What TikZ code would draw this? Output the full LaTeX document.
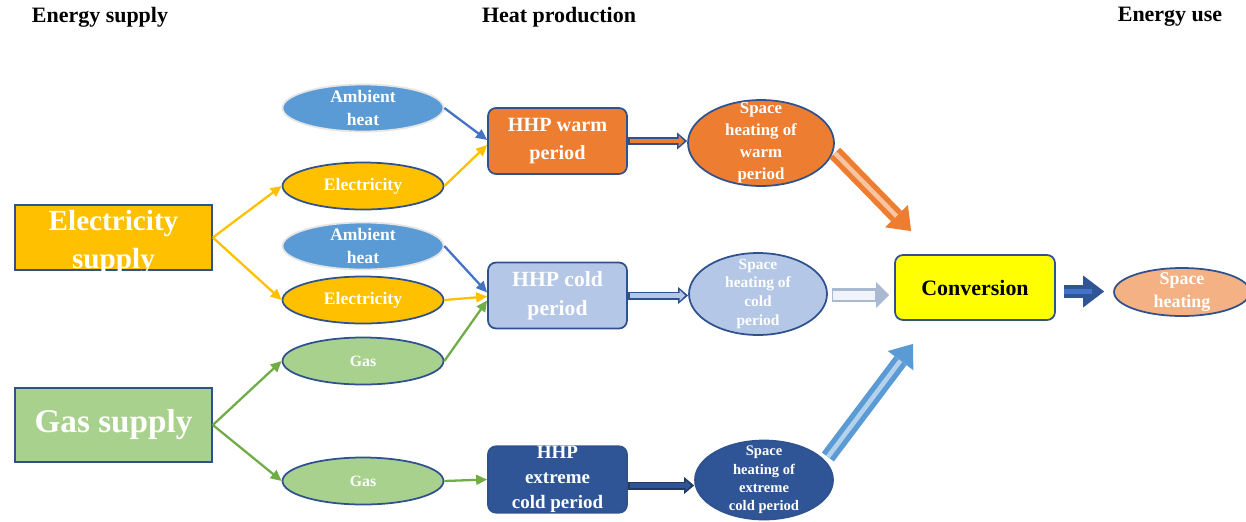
\documentclass[tikz,border=0pt]{standalone}
\usepackage{fontspec}
\setmainfont{Liberation Serif}
\usetikzlibrary{arrows.meta, shapes.geometric}
\definecolor{ElecYellow}{HTML}{FFC000}
\definecolor{GasGreen}{HTML}{A9D18E}
\definecolor{GasLine}{HTML}{70AD47}
\definecolor{AmbBlue}{HTML}{5B9BD5}
\definecolor{AmbLine}{HTML}{4472C4}
\definecolor{WarmOrange}{HTML}{ED7D31}
\definecolor{ColdBlue}{HTML}{B4C7E7}
\definecolor{DeepBlue}{HTML}{2F5597}
\definecolor{EdgeBlue}{HTML}{2F528F}
\definecolor{PeachFill}{HTML}{F4B183}
\definecolor{ConvYellow}{HTML}{FFFF00}

\begin{document}
\begin{tikzpicture}[x=0.02cm, y=-0.02cm,
            every node/.style={font=\bfseries},
            title/.style={font=\bfseries\fontsize{12.5}{15}\selectfont},
            supply/.style={rectangle, draw=EdgeBlue, line width=1pt, inner sep=0pt, minimum width=3.94cm, align=center, text=white},
            hhp/.style={rectangle, rounded corners=0.16cm, draw=EdgeBlue, line width=1pt, inner sep=0pt, minimum width=2.78cm, minimum height=1.32cm, align=center, text=white},
            carrier/.style={ellipse, draw=EdgeBlue, line width=1pt, minimum width=3.22cm, minimum height=0.94cm},
            heat/.style={ellipse, draw=EdgeBlue, line width=1pt},
            txt/.style={align=center, text=white, inner sep=0pt},
            feed/.style={line width=1.3pt, -{Triangle[length=0.22cm, width=0.2cm]}},
            pipe/.style 2 args={draw=#2, line width=0.16cm, -{Triangle[length=0.2cm, width=0.34cm, line width=0pt]},
                postaction={draw=#1, line width=0.09cm, shorten <=0.04cm, shorten >=0.06cm, -{Triangle[length=0.11cm, width=0.22cm, line width=0pt]}}},
            fat/.style 2 args={draw=#1, line width=0.3cm, -{Triangle[length=0.42cm, width=0.64cm, line width=0pt]},
                postaction={draw=#2, line width=0.09cm, shorten >=0.42cm, -}},
        ]
            \useasboundingbox (0,0) rectangle (1246,521);

            \node[title] (esup) at (100,17) {Energy supply};
            \node[title] (hprod) at (559,17) {Heat production};
            \node[title] (euse) at (1170,17) {Energy use};

            \node[supply, fill=ElecYellow, minimum height=1.3cm, label={[txt, font=\bfseries\fontsize{16.6}{21.5}\selectfont, yshift=-0.1cm]center:Electricity\\supply}] (elsup) at (113.5,237.5) {};
            \node[supply, fill=GasGreen, minimum height=1.48cm, font=\bfseries\fontsize{18.9}{22}\selectfont] (gassup) at (113.5,425) {Gas supply};

            \node[carrier, fill=AmbBlue, draw=white!80!gray, label={[txt, font=\bfseries\fontsize{10}{13}\selectfont]center:Ambient\\heat}] (amb1) at (363,108) {};
            \node[carrier, fill=ElecYellow, label={[txt, font=\bfseries\fontsize{10}{13}\selectfont]center:Electricity}] (el1) at (363,186) {};
            \node[carrier, fill=AmbBlue, draw=white!80!gray, label={[txt, font=\bfseries\fontsize{10}{13}\selectfont]center:Ambient\\heat}] (amb2) at (363,246) {};
            \node[carrier, fill=ElecYellow, label={[txt, font=\bfseries\fontsize{10}{13}\selectfont]center:Electricity}] (el2) at (363,300) {};
            \node[carrier, fill=GasGreen, label={[txt, font=\bfseries\fontsize{9}{13}\selectfont]center:Gas}] (gas1) at (363,361) {};
            \node[carrier, fill=GasGreen, label={[txt, font=\bfseries\fontsize{9}{13}\selectfont]center:Gas}] (gas2) at (363,481) {};

            \node[hhp, fill=WarmOrange, font=\bfseries\fontsize{11.5}{16}\selectfont] (hw) at (557.5,141) {HHP warm\\period};
            \node[hhp, fill=ColdBlue, font=\bfseries\fontsize{12.3}{16.5}\selectfont] (hc) at (557.5,295.5) {HHP cold\\period};
            \node[hhp, fill=DeepBlue, font=\bfseries\fontsize{10.8}{14.2}\selectfont] (he) at (557.5,479.5) {HHP\\extreme\\cold period};

            \node[heat, fill=WarmOrange, minimum width=2.92cm, minimum height=1.72cm, label={[txt, font=\bfseries\fontsize{9.6}{12.5}\selectfont]center:Space\\heating of\\warm\\period}] (wsh) at (761,143) {};
            \node[heat, fill=ColdBlue, minimum width=2.76cm, minimum height=1.64cm, label={[txt, font=\bfseries\fontsize{8.8}{10.8}\selectfont]center:Space\\heating of\\cold\\period}] (csh) at (758,294) {};
            \node[heat, fill=DeepBlue, minimum width=2.76cm, minimum height=1.58cm, label={[txt, font=\bfseries\fontsize{8.3}{10.4}\selectfont]center:Space\\heating of\\extreme\\cold period}] (esh) at (764,480) {};

            \node[hhp, fill=ConvYellow, minimum width=3.2cm, minimum height=1.3cm, text=black, font=\bfseries\fontsize{12.5}{15}\selectfont] (conv) at (975,287.5) {Conversion};
            \node[heat, fill=PeachFill, minimum width=2.72cm, minimum height=0.96cm, label={[txt, font=\bfseries\fontsize{10.2}{13}\selectfont]center:Space\\heating}] (se) at (1182,292) {};

            \draw[feed, ElecYellow] (elsup.east) -- (el1.west);
            \draw[feed, ElecYellow] (elsup.east) -- (el2.west);
            \draw[feed, GasLine] (gassup.east) -- (gas1.west);
            \draw[feed, GasLine] (gassup.east) -- (gas2.west);
            \draw[feed, AmbLine] (amb1.east) -- ([shift={(0,-1)}]hw.west);
            \draw[feed, ElecYellow] (el1.east) -- ([shift={(0,4)}]hw.west);
            \draw[feed, AmbLine] (amb2.east) -- ([shift={(0,-3)}]hc.west);
            \draw[feed, ElecYellow] (el2.east) -- ([shift={(0,1)}]hc.west);
            \draw[feed, GasLine] (gas1.east) -- ([shift={(0,5)}]hc.west);
            \draw[feed, GasLine] (gas2.east) -- (he.west);

            \draw[pipe={WarmOrange}{EdgeBlue}] (hw.east) -- (hw.east -| wsh.west);
            \draw[pipe={ColdBlue}{EdgeBlue}] (hc.east) -- (hc.east -| csh.west);
            \draw[pipe={DeepBlue}{EdgeBlue!70!black}] ([shift={(0,6)}]he.east) -- ([shift={(0,6)}]he.east -| esh.west);

            \draw[fat={WarmOrange}{WarmOrange!45!white}] ([shift={(0,10)}]wsh.east) -- ([shift={(17,-23)}]conv.north west);
            \draw[fat={AmbBlue}{AmbBlue!45!white}] ([shift={(-6,-23)}]esh.east) -- ([shift={(19,23)}]conv.south west);
            \draw[draw=ColdBlue!80!gray, line width=0.28cm, shorten <=0.08cm, shorten >=0.1cm, -{Triangle[length=0.26cm, width=0.52cm, line width=0pt]},
                postaction={draw=ColdBlue!20!white, line width=0.18cm, shorten <=0.1cm, shorten >=0.38cm, -}] ([shift={(0,1)}]csh.east) -- ([shift={(0,1)}]csh.east -| conv.west);
            \draw[fat={DeepBlue}{AmbLine}, line width=0.26cm, shorten <=0.16cm, shorten >=0.18cm] ([shift={(0,4)}]conv.east) -- ([shift={(0,4)}]conv.east -| se.west);
        \end{tikzpicture}
\end{document}
